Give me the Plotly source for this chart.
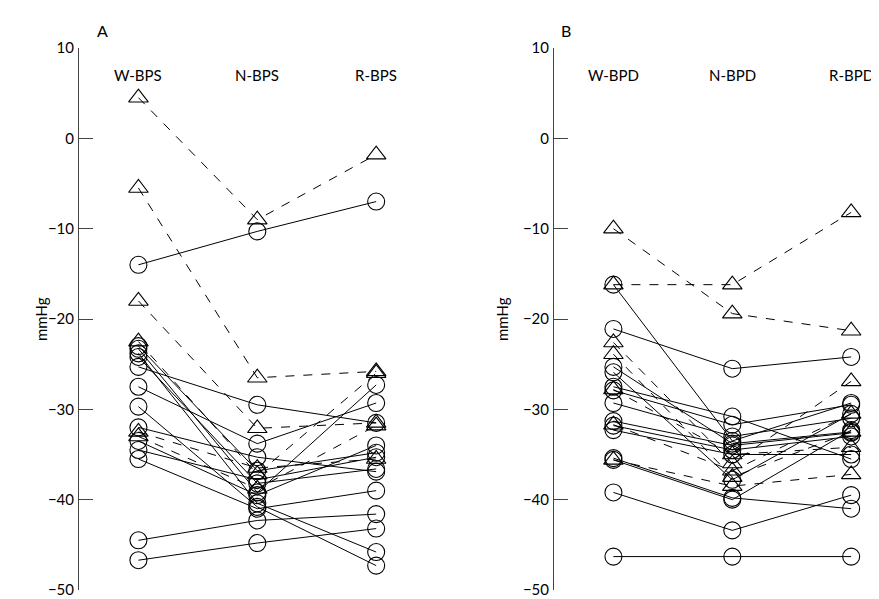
import plotly.graph_objects as go

cols_a = ["W-BPS", "N-BPS", "R-BPS"]
cols_b = ["W-BPD", "N-BPD", "R-BPD"]
y_ticks = [10, 0, -10, -20, -30, -40, -50]

# Panel A: systolic (W, N, R)
a_circles = [
    [-14.0, -10.3, -7.0],
    [-23.0, -36.8, -34.8],
    [-23.3, -39.2, -27.3],
    [-23.8, -40.4, -45.8],
    [-24.2, -38.2, -36.6],
    [-25.3, -29.5, -31.5],
    [-27.5, -33.8, -29.3],
    [-29.7, -40.8, -47.3],
    [-32.0, -35.3, -36.9],
    [-33.5, -39.5, -34.0],
    [-34.5, -37.8, -35.3],
    [-35.5, -41.0, -39.0],
    [-44.5, -42.3, -41.6],
    [-46.7, -44.8, -43.2],
]
a_triangles = [
    [4.5, -9.0, -1.8],
    [-5.5, -26.5, -25.8],
    [-18.0, -32.1, -31.5],
    [-22.5, -37.2, -26.0],
    [-33.0, -38.8, -31.8],
    [-32.5, -36.5, -35.5],
]

# Panel B: diastolic (W, N, R)
b_circles = [
    [-16.2, -33.5, -29.3],
    [-21.1, -25.5, -24.2],
    [-25.3, -33.8, -32.5],
    [-25.9, -37.8, -30.5],
    [-27.5, -30.8, -35.5],
    [-27.9, -31.7, -29.5],
    [-29.3, -33.0, -31.0],
    [-31.3, -34.0, -32.6],
    [-31.8, -34.5, -33.0],
    [-32.3, -35.0, -35.0],
    [-35.6, -40.0, -32.3],
    [-35.4, -39.8, -41.0],
    [-39.2, -43.4, -39.5],
    [-46.3, -46.3, -46.3],
]
b_triangles = [
    [-10.0, -19.4, -21.3],
    [-16.2, -16.2, -8.2],
    [-22.6, -36.0, -26.9],
    [-23.9, -37.5, -32.5],
    [-27.8, -35.0, -34.2],
    [-31.7, -36.8, -30.5],
    [-35.6, -38.5, -37.2],
]

FONT = "Lato"
fig = go.Figure()

def add_panel(circles, triangles, xa, ya):
    xs = [0, 1, 2]
    for v in circles:
        fig.add_trace(go.Scatter(
            x=xs, y=v, mode="lines+markers", xaxis=xa, yaxis=ya,
            line=dict(color="black", width=1),
            marker=dict(symbol="circle-open", size=17, color="black",
                        line=dict(width=1.1)),
            showlegend=False, cliponaxis=False))
    for v in triangles:
        fig.add_trace(go.Scatter(
            x=xs, y=v, mode="lines+markers", xaxis=xa, yaxis=ya,
            line=dict(color="black", width=1, dash="dash"),
            marker=dict(symbol="triangle-up-open", size=17, color="black",
                        line=dict(width=1.1)),
            showlegend=False, cliponaxis=False))

add_panel(a_circles, a_triangles, "x", "y")
add_panel(b_circles, b_triangles, "x2", "y2")

# page body has an 8px margin; the figure is offset by it
OFF = 8
W, H = 879 - OFF, 599 - OFF
def px(v):
    return (v - OFF) / W
def py(v):
    return 1 - (v - OFF) / H

ydom = [py(590), py(48)]

xcommon = dict(range=[-0.5, 2.15], showgrid=False, zeroline=False,
               showline=False, showticklabels=False, ticks="", automargin=False)
ycommon = dict(range=[-50, 10], tickvals=y_ticks, showgrid=False,
               zeroline=False, showline=True, linecolor="#444", linewidth=1,
               ticks="inside", ticklen=14, tickcolor="#444", tickwidth=1,
               ticklabelstandoff=1, automargin=False,
               tickfont=dict(family=FONT, size=15, color="black"),
               domain=ydom)

fig.update_layout(
    width=W, height=H,
    margin=dict(l=0, r=0, t=0, b=0, autoexpand=False),
    paper_bgcolor="white", plot_bgcolor="white",
    xaxis=dict(domain=[px(79), px(394)], **xcommon),
    xaxis2=dict(domain=[px(554), px(869)], anchor="y2", **xcommon),
    yaxis=dict(anchor="x", **ycommon),
    yaxis2=dict(anchor="x2", **ycommon),
)

for i, c in enumerate(cols_a):
    fig.add_annotation(x=i, y=7.0, xref="x", yref="y", text=c, showarrow=False,
                       font=dict(family=FONT, size=15, color="black"))
for i, c in enumerate(cols_b):
    fig.add_annotation(x=i, y=7.0, xref="x2", yref="y2", text=c, showarrow=False,
                       font=dict(family=FONT, size=15, color="black"))

for xp, yref in [(30, "y"), (502, "y2")]:
    fig.add_annotation(x=px(xp), y=-20, xref="paper", yref=yref, text="mmHg",
                       textangle=-90, showarrow=False,
                       font=dict(family=FONT, size=15, color="black"))

fig.add_annotation(x=px(95), y=py(19), xref="paper", yref="paper", text="A",
                   showarrow=False, font=dict(family=FONT, size=16, color="black"))
fig.add_annotation(x=px(566), y=py(19), xref="paper", yref="paper", text="B",
                   showarrow=False, font=dict(family=FONT, size=16, color="black"))

fig.write_html("out.html")
